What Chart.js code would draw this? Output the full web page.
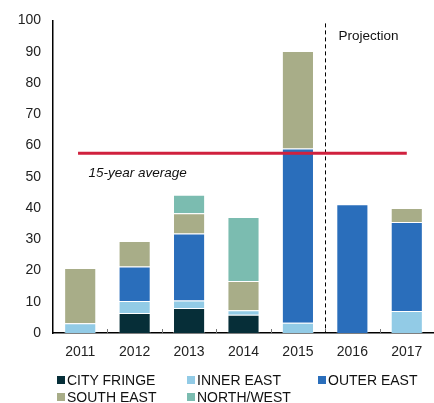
<!DOCTYPE html>
<html>
<head>
<meta charset="utf-8">
<script src="https://cdn.jsdelivr.net/npm/chart.js@4.4.1/dist/chart.umd.min.js"></script>
<style>
  body { margin: 0; background: #fff; font-family: "Liberation Sans", Arial, sans-serif; }
  #wrap { position: relative; width: 434px; height: 403px; }
  #legend { position: absolute; left: 0; top: 0; width: 434px; height: 403px; pointer-events: none; }
  .item { position: absolute; font-size: 14px; color: #111; line-height: 16px; white-space: nowrap; }
  .item span { display: inline-block; width: 8px; height: 8px; margin-right: 2px; vertical-align: 1px; }
</style>
</head>
<body>
<div id="wrap">
  <canvas id="myChart" width="434" height="368"></canvas>
  <div id="legend"></div>
</div>
<script>
// 데이터
var years = ["2011", "2012", "2013", "2014", "2015", "2016", "2017"];
var cityFringe = [null, 6.4, 8.0, 5.8, null, null, null];
var innerEast = [3.1, 3.8, 2.4, 1.5, 3.3, null, 7.0];
var outerEast = [null, 11.1, 21.4, null, 55.7, 41.2, 28.5];
var southEast = [17.7, 8.1, 6.5, 9.3, 31.2, null, 4.5];
var northWest = [null, null, 5.9, 20.5, null, null, null];
var yTicks = [0, 10, 20, 30, 40, 50, 60, 70, 80, 90, 100];
var average = 57.5;
var averageLabel = "15-year average";
var projectionLabel = "Projection";

var seriesNames = ["CITY FRINGE", "INNER EAST", "OUTER EAST", "SOUTH EAST", "NORTH/WEST"];
var seriesData = [cityFringe, innerEast, outerEast, southEast, northWest];
var seriesColors = ["#062e38", "#92cbe6", "#2a6ebb", "#a8ad88", "#7bbcb0"];

var datasets = [];
for (var i = 0; i < seriesNames.length; i++) {
    datasets.push({
        label: seriesNames[i],
        data: seriesData[i],
        backgroundColor: seriesColors[i],
        borderColor: "rgba(255,255,255,0.35)",
        borderWidth: 1,
        categoryPercentage: 1,
        barPercentage: 0.59
    });
}

// 평균선, 예측 구분선, 눈금 표시
var extras = {
    id: "extras",
    afterDatasetsDraw: function(chart) {
        var ctx = chart.ctx;
        var x = chart.scales.x;
        var y = chart.scales.y;
        var area = chart.chartArea;
        ctx.save();

        // small ticks between categories
        ctx.strokeStyle = "#777";
        ctx.lineWidth = 1;
        for (var i = 0; i < years.length - 1; i++) {
            var px = Math.round(x.getPixelForValue(i + 0.5)) + 0.5;
            ctx.beginPath();
            ctx.moveTo(px, area.bottom);
            ctx.lineTo(px, area.bottom - 4);
            ctx.stroke();
        }

        // projection divider
        var dx = Math.round(x.getPixelForValue(4.5)) + 0.5;
        ctx.strokeStyle = "#000";
        ctx.setLineDash([4, 3]);
        ctx.beginPath();
        ctx.moveTo(dx, area.top + 3);
        ctx.lineTo(dx, area.bottom);
        ctx.stroke();
        ctx.setLineDash([]);

        // average line
        var ay = y.getPixelForValue(average);
        ctx.strokeStyle = "#d0213e";
        ctx.lineWidth = 3;
        ctx.beginPath();
        ctx.moveTo(x.getPixelForValue(-0.04), ay);
        ctx.lineTo(x.getPixelForValue(6.0), ay);
        ctx.stroke();

        ctx.fillStyle = "#111";
        ctx.font = "italic 13.5px 'Liberation Sans', Arial, sans-serif";
        ctx.textBaseline = "middle";
        ctx.fillText(averageLabel, x.getPixelForValue(0.15), y.getPixelForValue(average - 6.3));

        ctx.font = "13.5px 'Liberation Sans', Arial, sans-serif";
        ctx.fillText(projectionLabel, dx + 13, y.getPixelForValue(95));
        ctx.restore();
    }
};

var ctx = document.getElementById("myChart").getContext("2d");
var myChart = new Chart(ctx, {
    type: "bar",
    data: { labels: years, datasets: datasets },
    options: {
        responsive: false,
        animation: false,
        layout: { padding: { top: 7, left: 0, right: 0, bottom: 0 } },
        plugins: { legend: { display: false }, tooltip: { enabled: false } },
        scales: {
            x: {
                stacked: true,
                grid: { display: false, drawTicks: false },
                border: { display: true, color: "#000", width: 1.5 },
                ticks: { color: "#222", font: { size: 14, family: "'Liberation Sans', Arial, sans-serif" }, padding: 11 },
                afterFit: function(scale) { scale.height = 35; }
            },
            y: {
                stacked: true,
                min: 0,
                max: 100,
                afterBuildTicks: function(scale) {
                    scale.ticks = yTicks.map(function(v) { return { value: v }; });
                },
                grid: { display: false, drawTicks: false },
                border: { display: true, color: "#000", width: 1.5 },
                ticks: { color: "#222", font: { size: 14, family: "'Liberation Sans', Arial, sans-serif" }, padding: 12 },
                afterFit: function(scale) { scale.width = 53; }
            }
        }
    },
    plugins: [extras]
});

// 범례 (HTML)
var legendPos = [[57, 372], [187, 372], [318, 372], [57, 389], [187, 389]];
var legendDiv = document.getElementById("legend");
seriesNames.forEach(function(name, i) {
    var item = document.createElement("div");
    item.className = "item";
    item.style.left = legendPos[i][0] + "px";
    item.style.top = legendPos[i][1] + "px";
    var sw = document.createElement("span");
    sw.style.background = seriesColors[i];
    item.appendChild(sw);
    item.appendChild(document.createTextNode(name));
    legendDiv.appendChild(item);
});
</script>
</body>
</html>
